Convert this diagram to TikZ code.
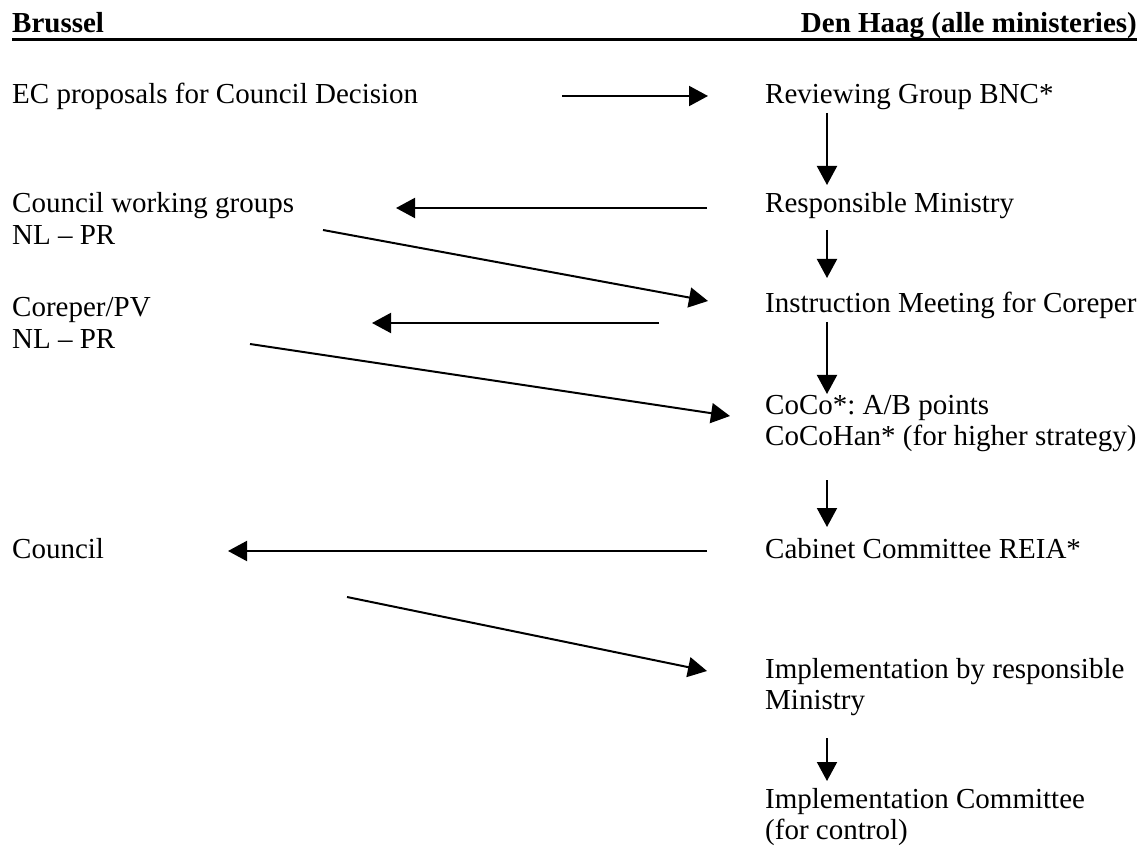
\documentclass[tikz,border=0pt]{standalone}
\usepackage{fontspec}
\setmainfont{Liberation Serif}
\usetikzlibrary{arrows.meta}
\frenchspacing
% left-aligned multi-line label whose baseline is the first line
\newcommand\stack[1]{\begin{tabular}[t]{@{}l@{}}#1\end{tabular}}
\begin{document}
\begin{tikzpicture}[x=1pt,y=-1pt,
  lbl/.style={anchor=base west,inner sep=0pt,font=\fontsize{29}{31.5}\selectfont},
  head/.style={anchor=base west,inner sep=0pt,font=\fontsize{29}{31.5}\selectfont\bfseries},
  arr/.style={line width=2pt,-{Triangle[length=19pt,width=20pt]}},
  rulel/.style={line width=3.8pt}]
\useasboundingbox (0,0) rectangle (1144,850);

% column headings with the rule beneath them
\node[head] (bru) at (12,33) {Brussel};
\node[head,anchor=base east] (dh) at (1137,33) {Den Haag (alle ministeries)};
\draw[rulel] ([yshift=-6.5pt]bru.base west) -- ([yshift=-6.5pt]dh.base east);

% Brussels side
\node[lbl] (ec) at (12,104) {EC proposals for Council Decision};
\node[lbl] (cwg) at (12,213) {\stack{Council working groups\\NL -- PR}};
\node[lbl] (cor) at (12,317) {\stack{Coreper/PV\\NL -- PR}};
\node[lbl] (cou) at (12,558) {Council};

% The Hague side
\node[lbl] (rev) at (765,104) {Reviewing Group BNC*};
\node[lbl] (resp) at (765,213) {Responsible Ministry};
\node[lbl] (instr) at (765,313) {Instruction Meeting for Coreper};
\node[lbl] (coco) at (765,414) {\stack{CoCo*: A/B points\\CoCoHan* (for higher strategy)}};
\node[lbl] (cab) at (765,558) {Cabinet Committee REIA*};
\node[lbl] (impl) at (765,678) {\stack{Implementation by responsible\\Ministry}};
\node[lbl] (ic) at (765,808) {\stack{Implementation Committee\\(for control)}};

% arrow end points
\coordinate (a1s) at (562,96);  \coordinate (a1e) at (708,96);
\coordinate (d1s) at (827,113); \coordinate (d1e) at (827,185);
\coordinate (l1s) at (707,208); \coordinate (l1e) at (396,208);
\coordinate (d2s) at (827,230); \coordinate (d2e) at (827,278);
\coordinate (g1s) at (323,230); \coordinate (g1e) at (708,301);
\coordinate (l2s) at (659,323); \coordinate (l2e) at (372,323);
\coordinate (g2s) at (250,344); \coordinate (g2e) at (730,416);
\coordinate (d3s) at (827,322); \coordinate (d3e) at (827,394);
\coordinate (d4s) at (827,480); \coordinate (d4e) at (827,527);
\coordinate (l3s) at (707,551); \coordinate (l3e) at (228,551);
\coordinate (g3s) at (347,597); \coordinate (g3e) at (707,671);
\coordinate (d5s) at (827,738); \coordinate (d5e) at (827,781);

\draw[arr] (a1s) -- (a1e);
\draw[arr] (d1s) -- (d1e);
\draw[arr] (l1s) -- (l1e);
\draw[arr] (d2s) -- (d2e);
\draw[arr] (g1s) -- (g1e);
\draw[arr] (l2s) -- (l2e);
\draw[arr] (g2s) -- (g2e);
\draw[arr] (d3s) -- (d3e);
\draw[arr] (d4s) -- (d4e);
\draw[arr] (l3s) -- (l3e);
\draw[arr] (g3s) -- (g3e);
\draw[arr] (d5s) -- (d5e);
\end{tikzpicture}
\end{document}
